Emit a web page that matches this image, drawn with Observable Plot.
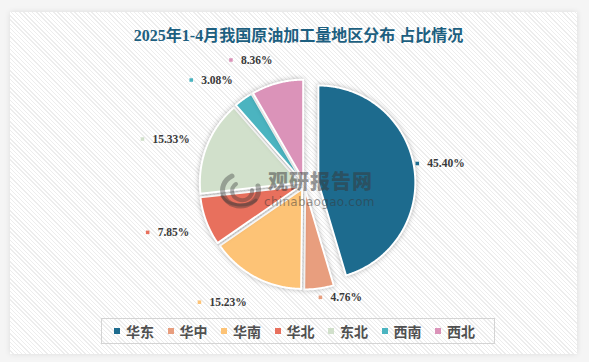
<!DOCTYPE html>
<html><head><meta charset="utf-8">
<script src="https://cdn.jsdelivr.net/npm/d3@7"></script>
<script src="https://cdn.jsdelivr.net/npm/@observablehq/plot@0.6"></script>
<style>
html,body{margin:0;padding:0;}
body{width:589px;height:362px;background:#f5f5f5;position:relative;overflow:hidden;font-family:"Noto Sans CJK SC",sans-serif;}
#panel{position:absolute;left:10px;top:12px;width:567px;height:342px;background-color:#fff;
 background-image:repeating-linear-gradient(45deg,#fff 0,#fff 2px,#ededed 2px,#ededed 3px);
 box-shadow:0 0 6px rgba(0,0,0,0.10);}
#title{position:absolute;left:4px;top:25px;width:589px;text-align:center;font:bold 16px "Liberation Serif","Noto Sans CJK SC";color:#1d5f80;line-height:22px;}
#wm{position:absolute;left:0;top:0;width:589px;height:362px;pointer-events:none;}
#wm1{position:absolute;left:268px;top:170px;font:900 20px "Noto Sans CJK SC";color:rgba(55,55,55,0.5);line-height:22px;letter-spacing:1px;}
#wm2{position:absolute;left:264px;top:196px;font:12px "DejaVu Sans";color:rgba(55,55,55,0.5);line-height:13px;letter-spacing:0.3px;}
#chart{position:absolute;left:0;top:0;}
#chart g[aria-label="line"]{filter:drop-shadow(0 0 2.5px rgba(0,0,0,0.28));}
#legend{position:absolute;left:101px;top:318px;width:380px;height:24px;border:1px solid #d4d4d4;display:flex;align-items:center;padding-left:12px;box-sizing:content-box;}
.item{display:flex;align-items:center;margin-right:13.5px;}
.sw{width:6px;height:6px;margin-right:6px;}
.lb{font:bold 14px "Noto Sans CJK SC";color:#505050;line-height:16px;}
</style></head>
<body>
<div id="panel"></div>
<div id="title">2025年1-4月我国原油加工量地区分布 占比情况</div>
<div id="chart"></div>
<div id="wm">
 <svg width="589" height="362" style="position:absolute;left:0;top:0">
  <g fill="none" stroke="rgba(55,55,55,0.38)" stroke-linecap="round">
   <path d="M232,176 A18,16 0 1,0 258,186" stroke-width="5"/>
   <path d="M236,184 A10,9 0 1,0 252,190" stroke-width="4"/>
   <path d="M222,196 A20,14 0 0,0 256,200" stroke-width="3"/>
  </g>
 </svg>
 <div id="wm1">观研报告网</div>
 <div id="wm2">chinabaogao.com</div>
</div>
<div id="legend"></div>
<script>
const regions = ["华东","华中","华南","华北","东北","西南","西北"];
const shares = [45.40, 4.76, 15.23, 7.85, 15.33, 3.08, 8.36];
const colors = ["#1d6b8e","#e89e7e","#fdc376","#e8705d","#d1e0cb","#4bb4c0","#db93b9"];

const W = 589, H = 362;
const cx = 304, cy = 184, R = 100, off = 5;
const bigR = 97, bigOff = 14; // exploded first slice

const data = regions.map((name, i) => ({name, value: shares[i], color: colors[i]}));
const arcs = d3.pie().sort(null).value(d => d.value)(data);

const canvas = document.createElement("canvas");
const ctx = canvas.getContext("2d");
ctx.font = "bold 11.5px 'Liberation Serif'";

const slices = [];
const markers = [];
const texts = [];
arcs.forEach((a, i) => {
  const d = a.data;
  const mid = (a.startAngle + a.endAngle) / 2;
  const o = i === 0 ? bigOff : off;
  const r = i === 0 ? bigR : R;
  const ox = cx + o * Math.sin(mid), oy = cy - o * Math.cos(mid);
  const pts = [{x: ox, y: oy}];
  const n = Math.max(2, Math.ceil((a.endAngle - a.startAngle) / 0.01));
  for (let k = 0; k <= n; k++) {
    const t = a.startAngle + (a.endAngle - a.startAngle) * k / n;
    pts.push({x: ox + r * Math.sin(t), y: oy - r * Math.cos(t)});
  }
  pts.push({x: ox, y: oy});
  slices.push({pts, color: d.color});
  const label = d.value.toFixed(2) + "%";
  const w = ctx.measureText(label).width;
  if (mid < Math.PI) {
    const mx = cx + 114 * Math.sin(mid), my = cy - 4 - 118 * Math.cos(mid);
    markers.push({x: mx, y: my, color: d.color});
    texts.push({x: mx + 10, y: my, label});
  } else {
    const ex = cx + 123 * Math.sin(mid), ey = cy + 2 - 131 * Math.cos(mid);
    markers.push({x: ex - w - 10, y: ey, color: d.color});
    texts.push({x: ex - w, y: ey, label});
  }
});

const marks = slices.map(s => Plot.line(s.pts, {x: "x", y: "y", fill: s.color, stroke: "#fff", strokeWidth: 2, strokeLinejoin: "round"}));
marks.push(Plot.dot(markers, {x: "x", y: "y", fill: "color", r: 2, symbol: "square"}));
marks.push(Plot.text(texts, {x: "x", y: "y", text: "label", textAnchor: "start", fill: "#3a3a3a", fontSize: 11.5, fontWeight: "bold", fontFamily: "Liberation Serif"}));

const plot = Plot.plot({
  width: W, height: H,
  margin: 0,
  x: {domain: [0, W], range: [0, W], axis: null},
  y: {domain: [0, H], range: [0, H], axis: null},
  color: {type: "identity"},
  style: {background: "transparent", overflow: "visible"},
  marks
});
document.getElementById("chart").appendChild(plot);

const legend = document.getElementById("legend");
data.forEach(d => {
  const it = document.createElement("div"); it.className = "item";
  const sw = document.createElement("div"); sw.className = "sw"; sw.style.background = d.color;
  const lb = document.createElement("div"); lb.className = "lb"; lb.textContent = d.name;
  it.appendChild(sw); it.appendChild(lb); legend.appendChild(it);
});
</script>
</body></html>
